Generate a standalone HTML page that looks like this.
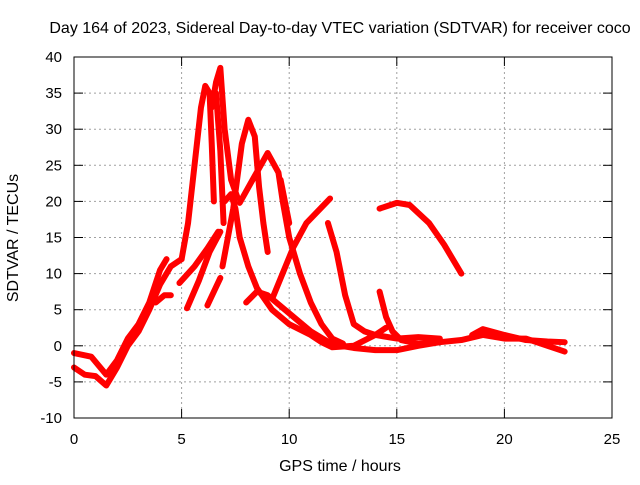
<!DOCTYPE html>
<html><head><meta charset="utf-8"><style>
body{margin:0;background:#fff;width:640px;height:480px;overflow:hidden}
svg text{font-family:"Liberation Sans",sans-serif;font-size:15px;fill:#000}
</style></head><body>
<svg id="chart" width="640" height="480">
<text x="340" y="33" text-anchor="middle" style="font-size:16px">Day 164 of 2023, Sidereal Day-to-day VTEC variation (SDTVAR) for receiver coco</text>
<text x="340" y="471" text-anchor="middle" style="font-size:16px">GPS time / hours</text>
<text transform="translate(18,238) rotate(-90)" text-anchor="middle" style="font-size:16px">SDTVAR / TECUs</text>
<g id="grid"></g><g id="ticks"></g><g id="series"></g>
<rect x="74" y="57" width="538" height="361" fill="none" stroke="#000" stroke-width="1"/>
</svg>
<script>
const xTicks=[0,5,10,15,20,25];
const yTicks=[-10,-5,0,5,10,15,20,25,30,35,40];
const s1=[[0,-3],[0.5,-4],[1,-4.2],[1.5,-5.5],[2,-3],[2.5,0],[3,2],[3.5,5],[4,8.5],[4.5,11],[5,12]];
const s2=[[0,-1],[0.8,-1.5],[1.5,-4],[2,-2],[2.5,1],[3,3],[3.5,6],[4,10.5],[4.3,12]];
const s3=[[3.8,6],[4.2,7],[4.5,7]];
const s4=[[5,12],[5.3,17],[5.6,25],[5.9,33],[6.1,36],[6.3,35],[6.4,28],[6.5,20]];
const s5=[[6.4,33],[6.6,36.5],[6.8,38.5],[7.0,30],[7.3,23],[7.6,20.5]];
const s6=[[6.6,35],[6.8,27],[6.95,17]];
const s7=[[4.9,8.7],[5.6,11],[6.2,13.5],[6.7,15.8]];
const s8=[[5.25,5.2],[5.8,9],[6.3,13],[6.8,15.8]];
const s9=[[6.2,5.6],[6.5,7.5],[6.8,9.4]];
const s10=[[6.9,11],[7.4,19],[7.8,28],[8.1,31.3],[8.4,29],[8.6,22],[8.8,17],[9.0,13]];
const s11=[[7.0,20],[7.3,21],[7.5,19],[7.7,15],[8.1,11],[8.5,8],[9.2,5],[10,3],[11,1.5],[11.5,0.5],[12,-0.2],[13,0],[14,1.5],[14.5,2.5]];
const s12=[[8,6],[8.5,7.5],[9,7],[10,4.5],[11,2],[12,0.2],[13,-0.3],[14,-0.6],[15,-0.6],[16,0],[17,0.5]];
const s13=[[9.25,6.8],[10.2,13.7],[10.8,17],[11.9,20.4]];
const s14=[[7.7,19.8],[8.3,23],[9.0,26.7],[9.5,24],[9.7,20],[10,15],[10.5,10],[11,6],[11.5,3],[12,1],[12.5,0.3]];
const s15=[[9.6,23],[9.8,20],[10,17]];
const s16=[[11.8,17],[12.2,13],[12.6,7],[13,3],[13.5,2],[14,1.5],[15,1],[16,1.2],[17,1]];
const s17=[[14.2,7.5],[14.5,4],[14.8,2],[15.2,0.8],[16,0.3],[17,0.5]];
const s18=[[14.2,19],[15,19.8],[15.6,19.5],[16.5,17],[17.2,14],[18,10]];
const s19=[[17,0.5],[18,0.8],[19,1.5],[20,1],[21,1],[22,0],[22.8,-0.8]];
const s20=[[18.5,1.5],[19,2.3],[20,1.5],[21,0.8],[22,0.6],[22.8,0.5]];
const allSeries=[s1,s2,s3,s4,s5,s6,s7,s8,s9,s10,s11,s12,s13,s14,s15,s16,s17,s18,s19,s20];
const X=v=>74+v*538/25, Y=v=>418-(v+10)*361/50;
const NS="http://www.w3.org/2000/svg";
const g=document.getElementById('grid'),t=document.getElementById('ticks'),sg=document.getElementById('series');
function mk(tag,at,p){const e=document.createElementNS(NS,tag);for(const k in at)e.setAttribute(k,at[k]);p.appendChild(e);return e;}
xTicks.forEach(v=>{
 if(v>0&&v<25){const l=mk('line',{x1:X(v),x2:X(v),y1:57,y2:418,stroke:'#a0a0a0','stroke-dasharray':'2,3'},g);
 
 
 mk('line',{x1:X(v),x2:X(v),y1:418,y2:409,stroke:'#000'},t);
 mk('line',{x1:X(v),x2:X(v),y1:57,y2:66,stroke:'#000'},t);}
 const tx=mk('text',{x:X(v),y:444,'text-anchor':'middle'},t);tx.textContent=v;
 
 
});
yTicks.forEach(v=>{
 if(v>-10&&v<40){const l=mk('line',{x1:74,x2:612,y1:Y(v),y2:Y(v),stroke:'#a0a0a0','stroke-dasharray':'2,3'},g);
 
 
 mk('line',{x1:74,x2:83,y1:Y(v),y2:Y(v),stroke:'#000'},t);
 mk('line',{x1:603,x2:612,y1:Y(v),y2:Y(v),stroke:'#000'},t);}
 const tx=mk('text',{x:62,y:Y(v)+5,'text-anchor':'end'},t);tx.textContent=v;
 
 
});
allSeries.forEach((s,i)=>{
 const p=mk('polyline',{points:s.map(d=>X(d[0])+','+Y(d[1])).join(' '),fill:'none',stroke:'#ff0000','stroke-width':6,'stroke-linejoin':'round','stroke-linecap':'round'},sg);
 
 
});
</script>
</body></html>
